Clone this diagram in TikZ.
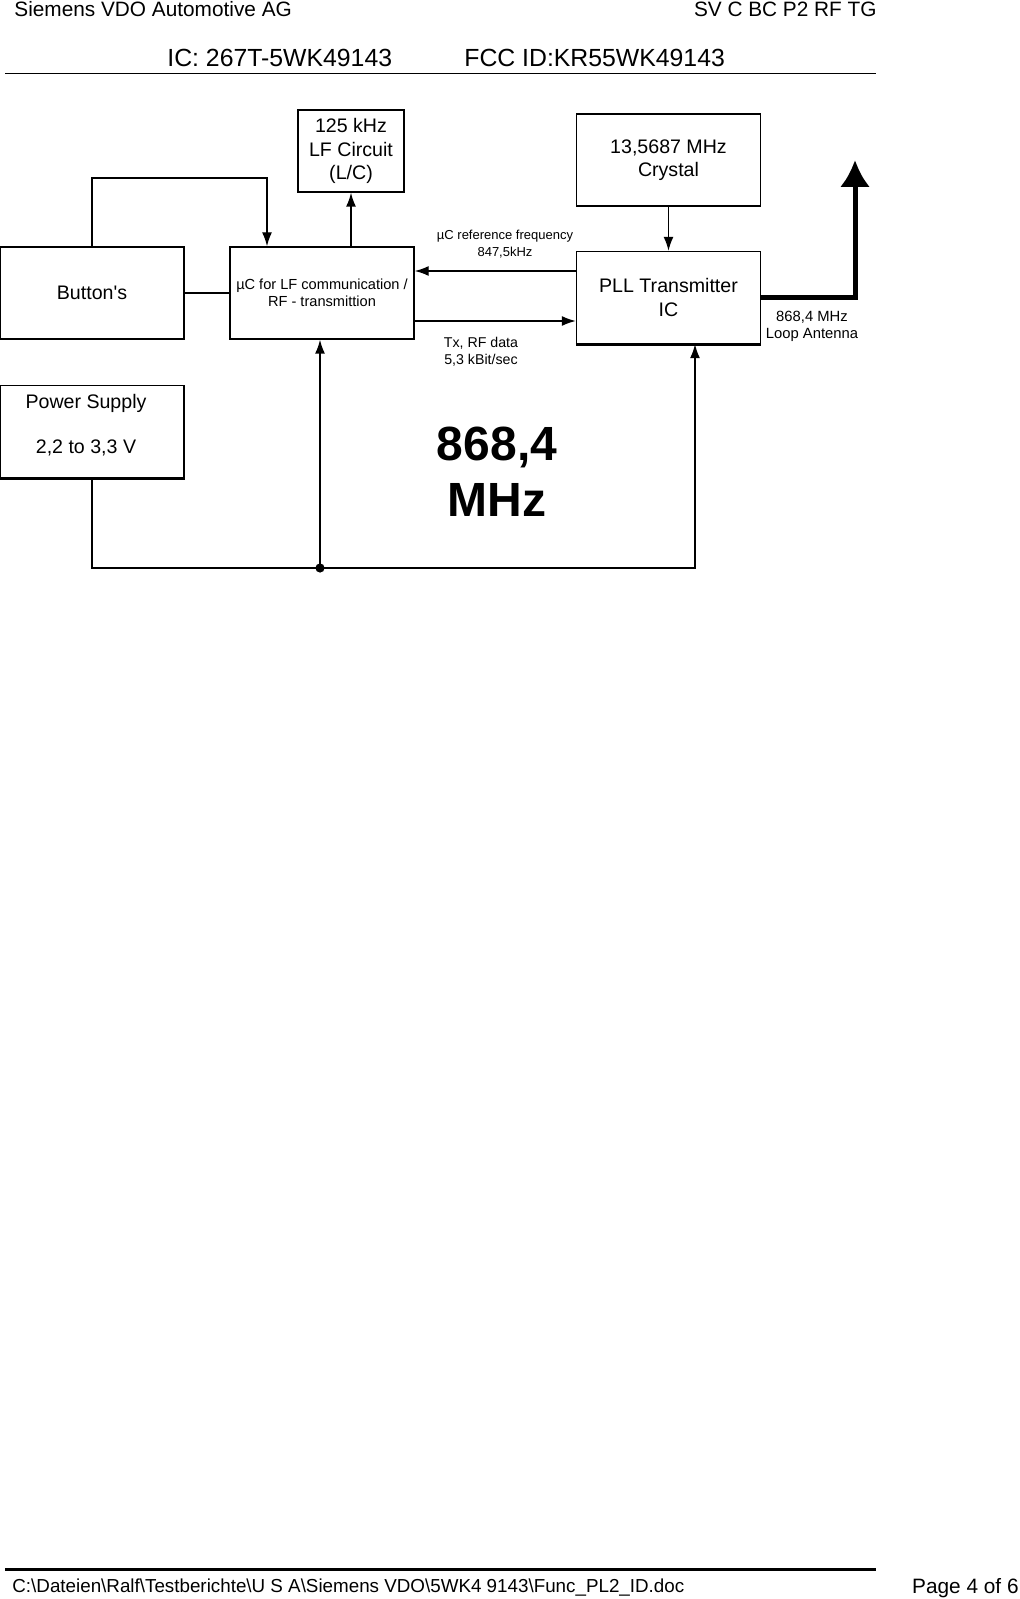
\documentclass[tikz,border=0pt]{standalone}
\usepackage{fontspec}
\setmainfont{Liberation Sans}
\usetikzlibrary{arrows.meta}
\newcommand{\bsl}{\textbackslash{}}

\begin{document}
\begin{tikzpicture}[
		x=0.5pt,y=-0.5pt,
		block/.style={draw,line width=0.7pt,inner sep=0pt,align=center,minimum width=92pt,minimum height=46pt,font=\fontsize{9.8}{11.6}\selectfont},
		small/.style={inner sep=0pt,align=center,font=\fontsize{#1}{8.5}\selectfont},
		conn/.style={line width=0.7pt},
		arr/.style={conn,-{Latex[length=7pt,width=5pt]}},
		hdr/.style={inner sep=0pt,font=\fontsize{10.4}{12}\selectfont},
		big/.style={hdr,font=\fontsize{12.4}{14}\selectfont}]
		\useasboundingbox (0,0) rectangle (1019,1599);
		\node[hdr,anchor=west] (firm) at (14,9) {Siemens VDO Automotive AG};
		\node[hdr,anchor=east] (dept) at (877,9) {SV C BC P2 RF TG};
		\node[big,anchor=west] (ic) at (167,58) {IC: 267T-5WK49143};
		\node[big,anchor=west] (fcc) at (464,58) {FCC ID:KR55WK49143};
		\coordinate (hl) at (5,73.5);
		\coordinate (hr) at (876,73.5);
		\draw[line width=0.75pt] (hl) -- (hr);
		\coordinate (fl) at (5,1569);
		\coordinate (fr) at (876,1569);
		\draw[line width=1.5pt] (fl) -- (fr);
		\node[hdr,anchor=west,font=\fontsize{9.4}{12}\selectfont] (path) at (12,1588) {C:\bsl Dateien\bsl Ralf\bsl Testberichte\bsl U S A\bsl Siemens VDO\bsl 5WK4 9143\bsl Func\_PL2\_ID.doc};
		\node[hdr,anchor=east] (page) at (1019,1588) {Page 4 of 6};
		\node[block] (btn) at (92,293) {Button\textquotesingle s};
		\node[block,font=\fontsize{7.3}{8.5}\selectfont] (uc) at (322,293) {µC for LF communication /\\RF - transmittion};
		\node[block,minimum width=53pt,minimum height=41pt] (lf) at (351,151) {125 kHz\\LF Circuit\\(L/C)};
		\node[block] (xtal) at (668.5,160) {13,5687 MHz\\Crystal};
		\node[block] (pll) at (668.5,297.5) {PLL Transmitter\\IC};
		\node[block,text depth=8pt] (psu) at (92,431.5) {Power Supply\hspace*{6pt}\\[11pt]2,2 to 3,3 V\hspace*{6pt}};
		\draw[line width=1.4pt] (pll.south west) -- (pll.south east);
		\draw[line width=1.4pt] (psu.south west) -- (psu.south east);
		\node[small=6.5] (reflbl) at (505,244.5) {µC reference frequency\\847,5kHz};
		\node[small=7.1] (txlbl) at (481,351.5) {Tx, RF data\\5,3 kBit/sec};
		\node[small=7.4] (antlbl) at (812,326.5) {868,4 MHz\\Loop Antenna};
		\node[inner sep=0pt,align=center,font=\fontsize{24}{28}\selectfont\bfseries] (band) at (497,472) {868,4\\MHz};
		\coordinate (btnup) at (267,178);
		\coordinate (refy) at (500,271);
		\coordinate (txy) at (500,321);
		\coordinate (anttop) at (855,160);
		\coordinate (jn) at (320,568);
		\coordinate (pllin) at (695,568);
		\draw[arr] (btn.north) |- (btnup) -- (btnup |- uc.north);
		\draw[conn] (btn.east) -- (uc.west);
		\draw[arr] (uc.north -| lf.south) -- (lf.south);
		\draw[arr] (xtal) -- (pll);
		\draw[arr] (pll.west |- refy) -- (uc.east |- refy);
		\draw[arr] (uc.east |- txy) -- (pll.west |- txy);
		\draw[line width=2.5pt,-{Latex[length=13.5pt,width=15pt]}] (pll.east) -| (anttop);
		\draw[arr] (psu.south) |- (pllin) -- (pllin |- pll.south);
		\draw[arr] (jn) -- (jn |- uc.south);
		\fill (jn) circle (2.3pt);
\end{tikzpicture}
\end{document}
